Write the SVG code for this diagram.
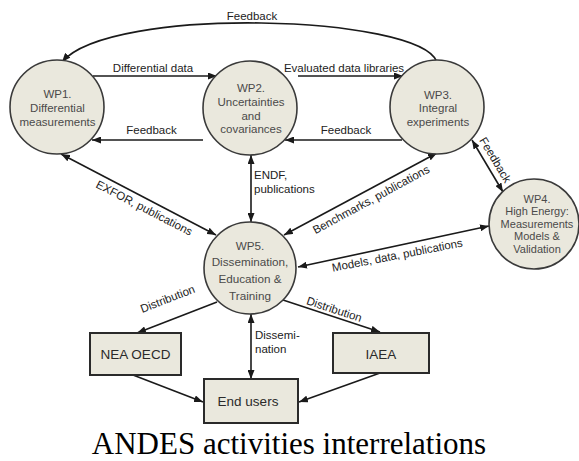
<svg xmlns="http://www.w3.org/2000/svg" width="579" height="461" viewBox="0 0 579 461">
<style>
.node circle{fill:#EAE8DD;stroke:#3a3a3a;stroke-width:1.6}
.node rect{fill:#EAE8DD;stroke:#2a2a2a;stroke-width:2}
.nt{font-family:"Liberation Sans",Arial,sans-serif;font-size:11.5px;fill:#4a4a4a;text-anchor:middle}
.bt{font-family:"Liberation Sans",Arial,sans-serif;font-size:13.5px;fill:#2a2a2a;text-anchor:middle}
.lb{font-family:"Liberation Sans",Arial,sans-serif;font-size:11.5px;fill:#222}
.c{text-anchor:middle}
.edges path{fill:none;stroke:#1a1a1a;stroke-width:1.6}
.cap{font-family:"Liberation Serif","Times New Roman",serif;font-size:31px;fill:#000;text-anchor:middle}
</style>
<defs>
<marker id="ah" markerWidth="9" markerHeight="7" refX="9" refY="3.5" orient="auto-start-reverse" markerUnits="userSpaceOnUse">
<path d="M0,0 L9,3.5 L0,7 z" fill="#1a1a1a"/>
</marker>
</defs>

<g class="edges">
<path d="M437,62 C420,15 110,5 62,62" marker-end="url(#ah)"/>
<path d="M93,76 L217,76" marker-end="url(#ah)"/>
<path d="M298,76 L403,76" marker-end="url(#ah)"/>
<path d="M203,140 L92,140" marker-end="url(#ah)"/>
<path d="M402,140 L285,140" marker-end="url(#ah)"/>
<path d="M251,155 L251,222" marker-start="url(#ah)" marker-end="url(#ah)"/>
<path d="M61,154 L216,235" marker-start="url(#ah)" marker-end="url(#ah)"/>
<path d="M284,235 L437,153" marker-start="url(#ah)" marker-end="url(#ah)"/>
<path d="M472,140 L503,192" marker-start="url(#ah)" marker-end="url(#ah)"/>
<path d="M298,267 L489,226" marker-start="url(#ah)" marker-end="url(#ah)"/>
<path d="M217,302 L137,333" marker-end="url(#ah)"/>
<path d="M283,300 L380,332" marker-end="url(#ah)"/>
<path d="M251,314 L251,379" marker-start="url(#ah)" marker-end="url(#ah)"/>
<path d="M133,375 L203,402" marker-end="url(#ah)"/>
<path d="M380,373 L299,402" marker-end="url(#ah)"/>
</g>

<g class="labels">
<text class="lb c" x="252" y="20">Feedback</text>
<text class="lb c" x="153" y="72">Differential data</text>
<text class="lb c" x="344" y="72">Evaluated data libraries</text>
<text class="lb c" x="151.5" y="134">Feedback</text>
<text class="lb c" x="346" y="134">Feedback</text>
<text class="lb" x="254" y="179">ENDF,</text>
<text class="lb" x="254" y="193">publications</text>
<text class="lb c" transform="translate(142.5,211.5) rotate(27.3)">EXFOR, publications</text>
<text class="lb c" transform="translate(373,203) rotate(-28.6)">Benchmarks, publications</text>
<text class="lb c" transform="translate(492,162) rotate(59)">Feedback</text>
<text class="lb c" transform="translate(398,259) rotate(-11)">Models, data, publications</text>
<text class="lb c" transform="translate(169,302.5) rotate(-21.2)">Distribution</text>
<text class="lb c" transform="translate(333,313) rotate(18.3)">Distribution</text>
<text class="lb" x="255" y="339">Dissemi-</text>
<text class="lb" x="255" y="352.5">nation</text>
</g>

<g id="wp1" class="node">
<circle cx="57" cy="107" r="47"/>
<text class="nt" x="57.5" y="98">WP1.</text>
<text class="nt" x="57.5" y="112">Differential</text>
<text class="nt" x="57.5" y="126">measurements</text>
</g>
<g id="wp2" class="node">
<circle cx="250" cy="108" r="47"/>
<text class="nt" x="251" y="92">WP2.</text>
<text class="nt" x="251" y="106">Uncertainties</text>
<text class="nt" x="251" y="119.5">and</text>
<text class="nt" x="251" y="133">covariances</text>
</g>
<g id="wp3" class="node">
<circle cx="437" cy="107" r="47"/>
<text class="nt" x="438" y="98.5">WP3.</text>
<text class="nt" x="438" y="112">Integral</text>
<text class="nt" x="438" y="125.5">experiments</text>
</g>
<g id="wp4" class="node">
<circle cx="534" cy="224" r="45"/>
<text class="nt" x="537" y="203" style="font-size:11px">WP4.</text>
<text class="nt" x="537" y="215" style="font-size:11px">High Energy:</text>
<text class="nt" x="537" y="227.5" style="font-size:11px">Measurements</text>
<text class="nt" x="537" y="240" style="font-size:11px">Models &amp;</text>
<text class="nt" x="537" y="253" style="font-size:11px">Validation</text>
</g>
<g id="wp5" class="node">
<circle cx="250" cy="268" r="46"/>
<text class="nt" x="250" y="250" style="font-size:11.7px">WP5.</text>
<text class="nt" x="250" y="266" style="font-size:11.7px">Dissemination,</text>
<text class="nt" x="250" y="283" style="font-size:11.7px">Education &amp;</text>
<text class="nt" x="250" y="299.5" style="font-size:11.7px">Training</text>
</g>
<g id="nea" class="node">
<rect x="90" y="333" width="91" height="42"/>
<text class="bt" x="135.5" y="359">NEA OECD</text>
</g>
<g id="iaea" class="node">
<rect x="333" y="333" width="96" height="40"/>
<text class="bt" x="381" y="358.5">IAEA</text>
</g>
<g id="endusers" class="node">
<rect x="204" y="379" width="94" height="44"/>
<text class="bt" x="248" y="406">End users</text>
</g>

<text class="cap" x="289" y="454">ANDES activities interrelations</text>
</svg>
